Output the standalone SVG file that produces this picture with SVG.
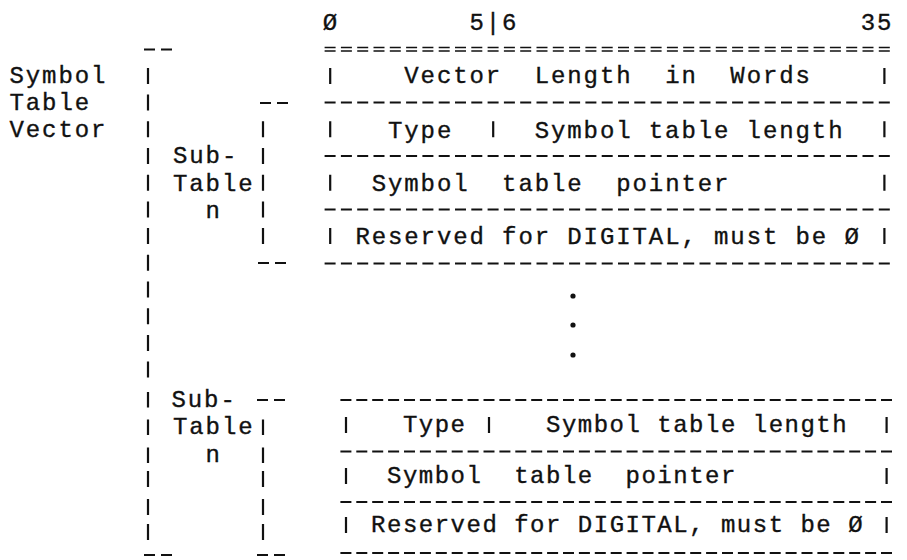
<svg xmlns="http://www.w3.org/2000/svg" width="907" height="560" viewBox="0 0 907 560">
  <style>
    text { font-family: "Liberation Mono", "DejaVu Sans Mono", monospace; font-size: 24px; fill: #111; stroke: #111; stroke-width: 0.35; letter-spacing: 1.9px; white-space: pre; }
    .lo { letter-spacing: 1.5px; }
    .bar { stroke: #111; stroke-width: 2.2; fill: none; }
    .rule { stroke: #111; stroke-width: 2; fill: none; stroke-dasharray: 11 5.3; }
    .rule-lo { stroke-dasharray: 11 4.9; }
    .dbl { stroke-width: 1.5; }
    .tick { stroke: #111; stroke-width: 2; fill: none; stroke-dasharray: 11 6; }
  </style>
  <rect width="907" height="560" fill="#fff"/>

  <!-- bit positions above the word layout -->
  <g id="bit-header">
    <text x="322.8" y="30">Ø</text>
    <text x="469.5" y="30">5|6</text>
    <text x="860.7" y="30">35</text>
  </g>

  <!-- outer bracket: Symbol Table Vector -->
  <g id="symbol-table-vector">
    <text x="9.5" y="83">Symbol</text>
    <text x="9.5" y="110">Table</text>
    <text x="9.5" y="136.5">Vector</text>
    <line class="tick" x1="144" y1="49.5" x2="173" y2="49.5"/>
    <path class="bar" d="M148 67.9V83.9M148 94.6V110.6M148 121.3V137.3M148 148V164M148 174.7V190.7M148 201.4V217.4M148 228.1V244.1M148 254.8V270.8M148 281.5V297.5M148 308.2V324.2M148 334.9V350.9M148 361.6V377.6M148 392V407.5M148 419.5V435M148 447.5V463M148 471V487M148 499V515M148 524V540"/>
    <line class="tick" x1="144" y1="555" x2="173" y2="555"/>
  </g>

  <!-- first sub-table bracket -->
  <g id="sub-table-first">
    <line class="tick" x1="260" y1="103" x2="289" y2="103"/>
    <path class="bar" d="M263 121.3V137.3M263 148V164M263 174.7V190.7M263 201.4V217.4M263 228.1V244.1"/>
    <line class="tick" x1="258" y1="263" x2="287" y2="263"/>
    <text x="173" y="163">Sub-</text>
    <text x="173" y="191">Table</text>
    <text x="205.5" y="218">n</text>
  </g>

  <!-- last sub-table bracket -->
  <g id="sub-table-last">
    <line class="tick" x1="257" y1="400" x2="286" y2="400"/>
    <path class="bar" d="M263 419.5V435M263 447.5V463M263 471V487M263 499V515M263 524V540"/>
    <line class="tick" x1="257" y1="555" x2="286" y2="555"/>
    <text x="171.5" y="407">Sub-</text>
    <text x="173" y="434">Table</text>
    <text x="205.5" y="462">n</text>
  </g>

  <!-- vector length word and first sub-table words -->
  <g id="vector-words">
    <line class="rule dbl" x1="324.6" y1="47.5" x2="889.8" y2="47.5"/>
    <line class="rule dbl" x1="324.6" y1="51" x2="889.8" y2="51"/>
    <text x="404.3" y="83">Vector  Length  in  Words</text>
    <line class="rule" x1="324.6" y1="102.6" x2="889.8" y2="102.6"/>
    <text x="388" y="137.5">Type</text>
    <text x="534.7" y="137.5">Symbol table length</text>
    <line class="rule" x1="324.6" y1="156" x2="889.8" y2="156"/>
    <text x="371.7" y="191">Symbol  table  pointer</text>
    <line class="rule" x1="324.6" y1="209.4" x2="889.8" y2="209.4"/>
    <text x="355.4" y="243.5">Reserved for DIGITAL, must be Ø</text>
    <line class="rule" x1="324.6" y1="263.5" x2="889.8" y2="263.5"/>
    <path class="bar" d="M330.2 67.9V83.9M884.4 67.9V83.9M330.2 121.3V137.3M493.2 121.3V137.3M884.4 121.3V137.3M330.2 174.7V190.7M884.4 174.7V190.7M330.2 228.1V244.1M884.4 228.1V244.1"/>
  </g>

  <!-- ellipsis between sub-tables -->
  <g id="ellipsis" fill="#111">
    <circle cx="573" cy="296" r="2.6"/>
    <circle cx="573" cy="325" r="2.6"/>
    <circle cx="573" cy="355" r="2.6"/>
  </g>

  <!-- last sub-table words, slightly tighter pitch -->
  <g id="last-words">
    <line class="rule rule-lo" x1="340.4" y1="400" x2="892.5" y2="400"/>
    <text class="lo" x="402.9" y="432">Type</text>
    <text class="lo" x="546" y="432">Symbol table length</text>
    <line class="rule rule-lo" x1="340.4" y1="451.5" x2="892.5" y2="451.5"/>
    <text class="lo" x="387" y="483">Symbol  table  pointer</text>
    <line class="rule rule-lo" x1="340.4" y1="502" x2="892.5" y2="502"/>
    <text class="lo" x="371.1" y="532">Reserved for DIGITAL, must be Ø</text>
    <line class="rule rule-lo" x1="340.4" y1="553" x2="892.5" y2="553"/>
    <path class="bar" d="M346 417V433M489 417V433M886.6 417V433M346 468V484M886.6 468V484M346 517V533M886.6 517V533"/>
  </g>
</svg>
